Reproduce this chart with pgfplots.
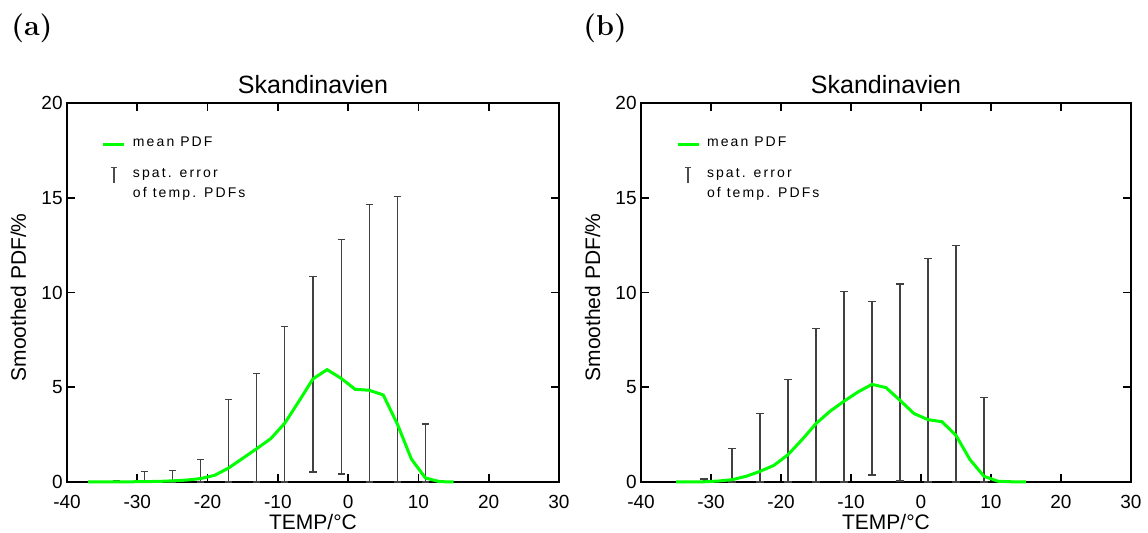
\documentclass[border=0pt]{standalone}
\usepackage{fontspec}
\usepackage{pgfplots}
\usepackage{pgfplotstable}
\pgfplotsset{compat=1.18}
\newfontfamily\helv{Liberation Sans}
\newfontfamily\legfont[LetterSpace=15]{Liberation Sans}

% mean smoothed PDF, panel (a)
\pgfplotstableread{
x y
-37 0
-35 0
-33 0.005
-31 0.01
-29 0.02
-27 0.03
-25 0.06
-23 0.10
-21 0.18
-19 0.35
-17 0.74
-15 1.25
-13 1.76
-11 2.29
-9 3.11
-7 4.26
-5 5.44
-3 5.93
-1 5.47
1 4.89
3 4.84
5 4.59
7 3.06
9 1.21
11 0.21
13 0.02
15 0
}\meanA

% spatial error bars, panel (a): lower and upper end
\pgfplotstableread{
x lo hi
-33 0 0.09
-29 0 0.56
-25 0 0.60
-21 0 1.18
-17 0 4.34
-13 0 5.73
-9 0 8.21
-5 0.53 10.85
-1 0.42 12.81
3 0 14.63
7 0 15.07
11 0 3.06
}\errA

% mean smoothed PDF, panel (b)
\pgfplotstableread{
x y
-35 0
-33 0
-31 0.01
-29 0.05
-27 0.12
-25 0.30
-23 0.56
-21 0.88
-19 1.44
-17 2.23
-15 3.08
-13 3.73
-11 4.26
-9 4.75
-7 5.15
-5 4.98
-3 4.31
-1 3.61
1 3.29
3 3.18
5 2.46
7 1.18
9 0.30
11 0.04
13 0.01
15 0
}\meanB

\pgfplotstableread{
x lo hi
-31 0 0.16
-27 0 1.76
-23 0 3.61
-19 0 5.40
-15 0 8.09
-11 0 10.04
-7 0.37 9.52
-3 0.05 10.45
1 0 11.80
5 0 12.47
9 0 4.47
13 0 0.04
}\errB

\pgfplotsset{
  pdfpanel/.style={
    scale only axis, height=189.5pt,
    xmin=-40, xmax=30, ymin=0, ymax=20,
    xtick={-40,-30,...,30}, ytick={0,5,...,20},
    tick align=inside, xtick pos=both, ytick pos=both,
    xticklabel pos=lower, yticklabel pos=left,
    major tick length=4pt,
    axis line style={line width=0.8pt},
    tick style={line width=0.8pt, black},
    clip=false,
    /pgf/number format/assume math mode=true,
    ticklabel style={font=\helv\fontsize{9.5}{11}\selectfont, inner sep=0pt},
    xticklabel style={yshift=-6.5pt},
    yticklabel style={xshift=-2pt},
    title style={at={(0.5,1)}, anchor=base, yshift=-1.5pt, inner sep=0pt,
      font=\helv\fontsize{12.5}{15}\selectfont},
    xlabel style={at={([yshift=-24pt]axis description cs:0.5,0)}, anchor=base,
      inner sep=0pt, font=\helv\fontsize{10.5}{12.6}\selectfont},
    ylabel style={at={([xshift=-20.5pt]axis description cs:0,0.487)}, anchor=base,
      inner sep=0pt, font=\helv\fontsize{10.5}{12.6}\selectfont},
    title=Skandinavien,
    xlabel={TEMP/°C},
    ylabel={Smoothed PDF/\%},
    legend style={at={([xshift=17.5pt,yshift=-14.8pt]axis description cs:0,1)},
      anchor=north west, draw=none, fill=none, inner sep=0pt, outer sep=0pt,
      column sep=1.5pt, row sep=3.3pt,
      font=\legfont\fontsize{7}{10}\selectfont,
      cells={anchor=base west, inner sep=0pt}},
  },
  errbar/.style={draw=none, mark=none,
    error bars/.cd, y dir=both, y explicit, error mark=|,
    error bar style={line width=0.6pt, black!75},
    error mark options={line width=0.6pt, black!75, mark size=1.8pt}},
  meanline/.style={green, line width=1.5pt, mark=none},
}

\newcommand\pdflegend{%
  \addlegendimage{legend image code/.code={\draw[green, line width=1.5pt] (0pt,1pt) -- (10.5pt,1pt);}}
  \addlegendentry{mean PDF}
  \addlegendimage{legend image code/.code={\draw[black!70, line width=0.6pt] (5.25pt,-2.5pt) -- (5.25pt,5pt) (3.8pt,5pt) -- (6.7pt,5pt);}}
  \addlegendentry{\begin{tabular}[t]{@{}l@{}}spat. error\\of temp. PDFs\end{tabular}}
}

\begin{document}
\begin{tikzpicture}
\path[use as bounding box] (-33.5pt,-25.5pt) rectangle (540.5pt,241pt);

\begin{axis}[pdfpanel, width=246pt, at={(0pt,0pt)}]
\pdflegend
\addplot[errbar] table[x=x, y=lo, y error plus expr=\thisrow{hi}-\thisrow{lo}, y error minus expr=0] {\errA};
\addplot[meanline] table[x=x, y=y] {\meanA};
\end{axis}

\begin{axis}[pdfpanel, width=245pt, at={(287pt,0pt)}]
\pdflegend
\addplot[errbar] table[x=x, y=lo, y error plus expr=\thisrow{hi}-\thisrow{lo}, y error minus expr=0] {\errB};
\addplot[meanline] table[x=x, y=y] {\meanB};
\end{axis}

\node[anchor=base west, inner sep=0pt, font=\bfseries\fontsize{14.4}{17}\selectfont] at (-28pt,223pt) {(a)};
\node[anchor=base west, inner sep=0pt, font=\bfseries\fontsize{14.4}{17}\selectfont] at (258pt,223pt) {(b)};
\end{tikzpicture}
\end{document}
